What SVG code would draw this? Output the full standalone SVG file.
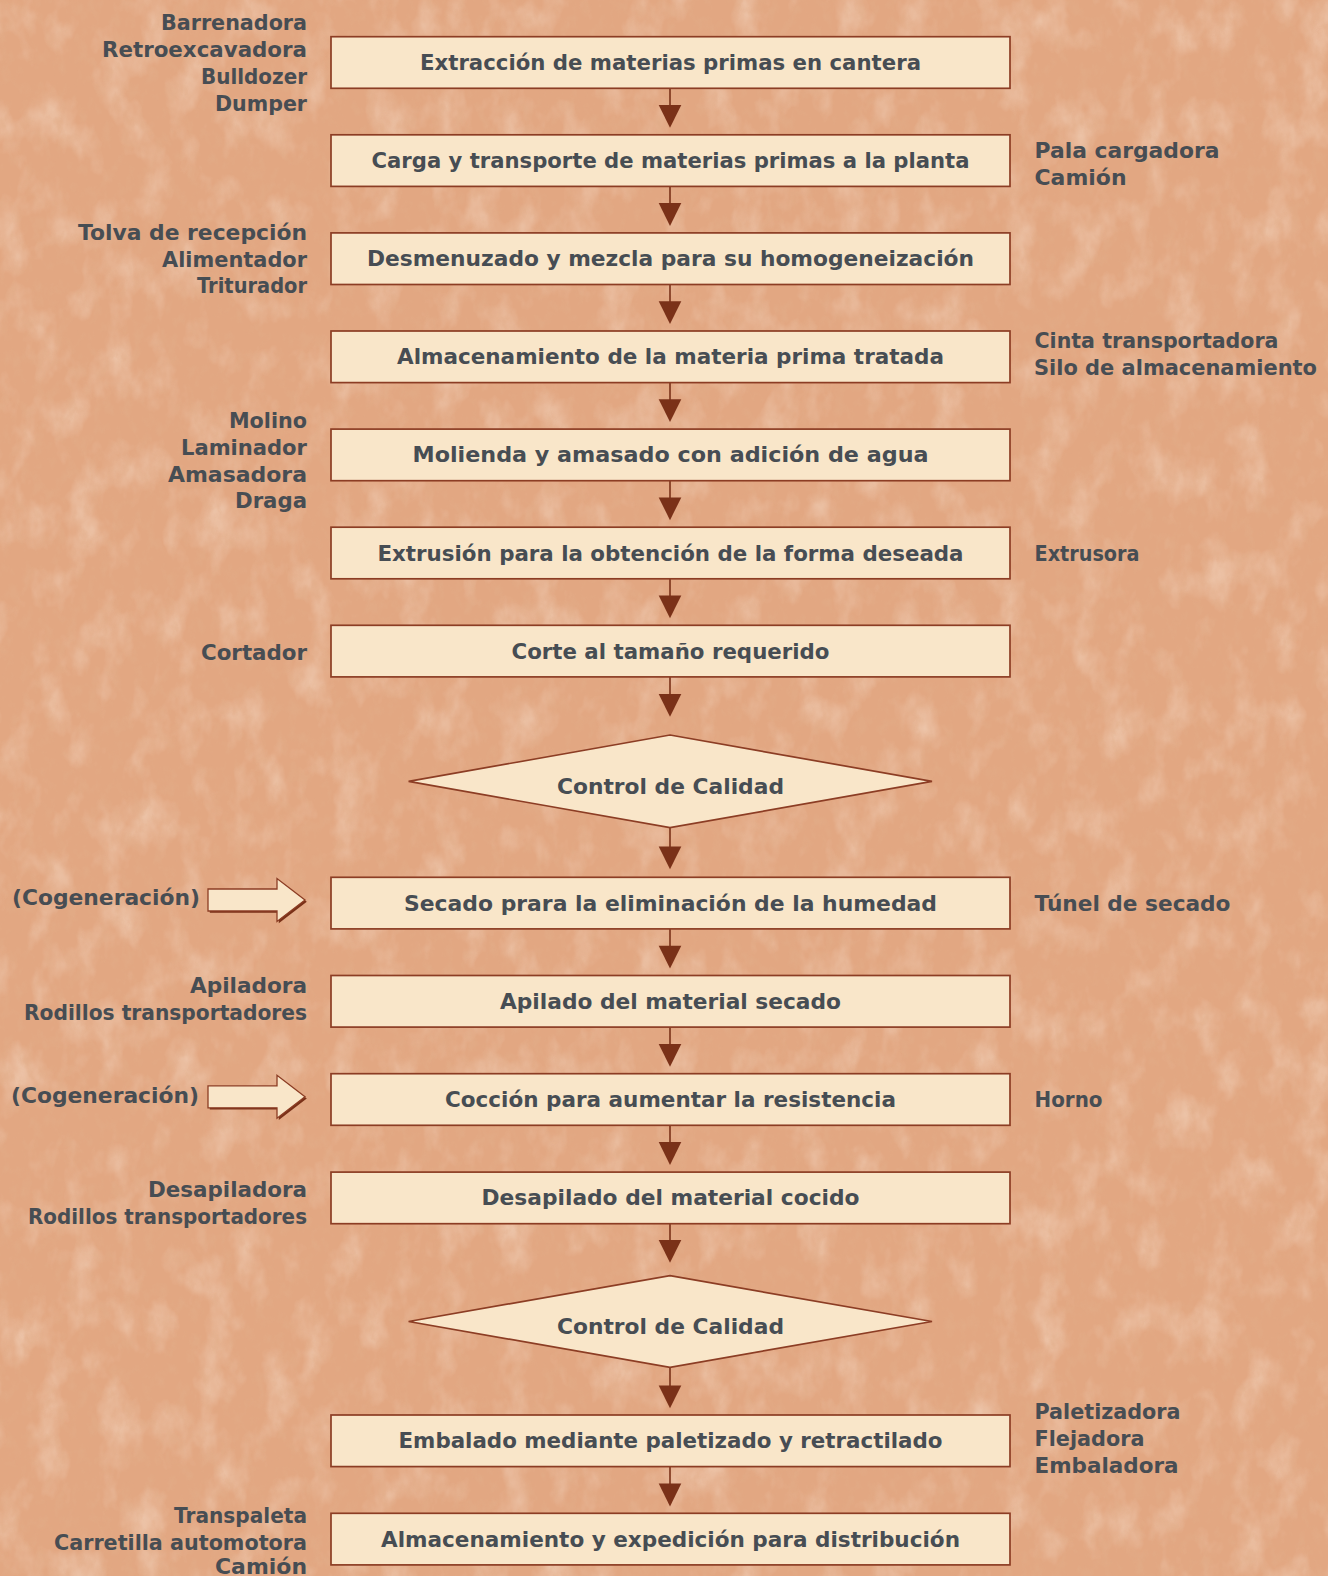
<svg xmlns="http://www.w3.org/2000/svg" width="1328" height="1576" viewBox="0 0 1328 1576">
<style>
.bg{fill:#e2a782}
.box{fill:#f9e6c9;stroke:#8c3d24;stroke-width:1.7}
.t{font-family:"DejaVu Sans","Liberation Sans",sans-serif;font-weight:bold;font-size:22px;fill:#474d53}
.c{text-anchor:middle}
.l{text-anchor:end}
.cl{stroke:#7a3118;stroke-width:1.6;fill:none}
.ah{fill:#7a3118}
.ba{fill:#f9e6c9;stroke:#8c3d24;stroke-width:1.3}
.bs{fill:#7a3118}
</style>
<defs>
<filter id="dark" x="0" y="0" width="100%" height="100%">
<feTurbulence type="fractalNoise" baseFrequency="0.09 0.06" numOctaves="4" seed="7" result="n"/>
<feColorMatrix in="n" type="matrix" values="0 0 0 0 0.76  0 0 0 0 0.42  0 0 0 0 0.25  3.0 0 0 0 -1.45"/>
</filter>
<filter id="light" x="0" y="0" width="100%" height="100%">
<feTurbulence type="fractalNoise" baseFrequency="0.03 0.02" numOctaves="4" seed="2" result="n"/>
<feColorMatrix in="n" type="matrix" values="0 0 0 0 0.95  0 0 0 0 0.80  0 0 0 0 0.68  -2.2 0 0 0 1.15"/>
</filter>
</defs>
<rect class="bg" x="0" y="0" width="1328" height="1576"/>
<rect x="0" y="0" width="1328" height="1576" filter="url(#light)" opacity="0.45"/>
<rect x="0" y="0" width="1328" height="1576" filter="url(#dark)" opacity="0.55"/>

<g id="connectors">
<line class="cl" x1="670" y1="88.3" x2="670" y2="106"/><polygon class="ah" points="658.7,105 681.3,105 670,127.8"/>
<line class="cl" x1="670" y1="186.4" x2="670" y2="204"/><polygon class="ah" points="658.7,203.1 681.3,203.1 670,225.9"/>
<line class="cl" x1="670" y1="284.5" x2="670" y2="302"/><polygon class="ah" points="658.7,301.2 681.3,301.2 670,324"/>
<line class="cl" x1="670" y1="382.6" x2="670" y2="400"/><polygon class="ah" points="658.7,399.3 681.3,399.3 670,422.1"/>
<line class="cl" x1="670" y1="480.7" x2="670" y2="498"/><polygon class="ah" points="658.7,497.4 681.3,497.4 670,520.2"/>
<line class="cl" x1="670" y1="578.8" x2="670" y2="596"/><polygon class="ah" points="658.7,595.5 681.3,595.5 670,618.3"/>
<line class="cl" x1="670" y1="676.9" x2="670" y2="695"/><polygon class="ah" points="658.7,694 681.3,694 670,716.8"/>
<line class="cl" x1="670" y1="827.7" x2="670" y2="847"/><polygon class="ah" points="658.7,846.5 681.3,846.5 670,869.3"/>
<line class="cl" x1="670" y1="928.9" x2="670" y2="946"/><polygon class="ah" points="658.7,945.7 681.3,945.7 670,968.5"/>
<line class="cl" x1="670" y1="1027.1" x2="670" y2="1044"/><polygon class="ah" points="658.7,1043.9 681.3,1043.9 670,1066.7"/>
<line class="cl" x1="670" y1="1125.3" x2="670" y2="1143"/><polygon class="ah" points="658.7,1142.1 681.3,1142.1 670,1164.9"/>
<line class="cl" x1="670" y1="1223.7" x2="670" y2="1241"/><polygon class="ah" points="658.7,1240 681.3,1240 670,1262.8"/>
<line class="cl" x1="670" y1="1367.3" x2="670" y2="1386"/><polygon class="ah" points="658.7,1385.4 681.3,1385.4 670,1408.2"/>
<line class="cl" x1="670" y1="1466.6" x2="670" y2="1484"/><polygon class="ah" points="658.7,1483.6 681.3,1483.6 670,1506.4"/>
</g>

<g id="cogen1">
<polygon class="bs" transform="translate(1.8,1.8)" points="208,889 277,889 277,878.5 305,900 277,921.5 277,911 208,911"/>
<polygon class="ba" points="208,889 277,889 277,878.5 305,900 277,921.5 277,911 208,911"/>
<text class="t" x="12" y="905" textLength="188" lengthAdjust="spacingAndGlyphs">(Cogeneración)</text>
</g>
<g id="cogen2">
<polygon class="bs" transform="translate(1.8,198.6)" points="208,889 277,889 277,878.5 305,900 277,921.5 277,911 208,911"/>
<polygon class="ba" transform="translate(0,196.8)" points="208,889 277,889 277,878.5 305,900 277,921.5 277,911 208,911"/>
<text class="t" x="11" y="1103.3" textLength="188" lengthAdjust="spacingAndGlyphs">(Cogeneración)</text>
</g>

<g id="n1"><rect class="box" x="331" y="36.7" width="679" height="51.6"/><text class="t c" x="670.5" y="70" textLength="501" lengthAdjust="spacingAndGlyphs">Extracción de materias primas en cantera</text></g>
<g id="n2"><rect class="box" x="331" y="134.8" width="679" height="51.6"/><text class="t c" x="670.5" y="168.1" textLength="598" lengthAdjust="spacingAndGlyphs">Carga y transporte de materias primas a la planta</text></g>
<g id="n3"><rect class="box" x="331" y="232.9" width="679" height="51.6"/><text class="t c" x="670.5" y="266.2" textLength="607" lengthAdjust="spacingAndGlyphs">Desmenuzado y mezcla para su homogeneización</text></g>
<g id="n4"><rect class="box" x="331" y="331" width="679" height="51.6"/><text class="t c" x="670.5" y="364.3" textLength="547" lengthAdjust="spacingAndGlyphs">Almacenamiento de la materia prima tratada</text></g>
<g id="n5"><rect class="box" x="331" y="429.1" width="679" height="51.6"/><text class="t c" x="670.5" y="462.4" textLength="516" lengthAdjust="spacingAndGlyphs">Molienda y amasado con adición de agua</text></g>
<g id="n6"><rect class="box" x="331" y="527.2" width="679" height="51.6"/><text class="t c" x="670.5" y="560.5" textLength="586" lengthAdjust="spacingAndGlyphs">Extrusión para la obtención de la forma deseada</text></g>
<g id="n7"><rect class="box" x="331" y="625.3" width="679" height="51.6"/><text class="t c" x="670.5" y="658.6" textLength="318" lengthAdjust="spacingAndGlyphs">Corte al tamaño requerido</text></g>
<g id="d1"><polygon class="box" points="670,735 932,781.4 670,827.7 408.6,781.4"/><text class="t c" x="670.5" y="794" textLength="227" lengthAdjust="spacingAndGlyphs">Control de Calidad</text></g>
<g id="n8"><rect class="box" x="331" y="877.3" width="679" height="51.6"/><text class="t c" x="670.5" y="910.6" textLength="533" lengthAdjust="spacingAndGlyphs">Secado prara la eliminación de la humedad</text></g>
<g id="n9"><rect class="box" x="331" y="975.5" width="679" height="51.6"/><text class="t c" x="670.5" y="1008.8" textLength="341" lengthAdjust="spacingAndGlyphs">Apilado del material secado</text></g>
<g id="n10"><rect class="box" x="331" y="1073.7" width="679" height="51.6"/><text class="t c" x="670.5" y="1107" textLength="451" lengthAdjust="spacingAndGlyphs">Cocción para aumentar la resistencia</text></g>
<g id="n11"><rect class="box" x="331" y="1172.1" width="679" height="51.6"/><text class="t c" x="670.5" y="1205.4" textLength="378" lengthAdjust="spacingAndGlyphs">Desapilado del material cocido</text></g>
<g id="d2"><polygon class="box" points="670,1275.7 932,1321.5 670,1367.3 408.6,1321.5"/><text class="t c" x="670.5" y="1334" textLength="227" lengthAdjust="spacingAndGlyphs">Control de Calidad</text></g>
<g id="n12"><rect class="box" x="331" y="1415" width="679" height="51.6"/><text class="t c" x="670.5" y="1448.3" textLength="544" lengthAdjust="spacingAndGlyphs">Embalado mediante paletizado y retractilado</text></g>
<g id="n13"><rect class="box" x="331" y="1513.3" width="679" height="51.6"/><text class="t c" x="670.5" y="1546.6" textLength="579" lengthAdjust="spacingAndGlyphs">Almacenamiento y expedición para distribución</text></g>

<g id="labels-left">
<text class="t l" x="307" y="30" textLength="146" lengthAdjust="spacingAndGlyphs">Barrenadora</text>
<text class="t l" x="307" y="57" textLength="205" lengthAdjust="spacingAndGlyphs">Retroexcavadora</text>
<text class="t l" x="307" y="84" textLength="106" lengthAdjust="spacingAndGlyphs">Bulldozer</text>
<text class="t l" x="307" y="111" textLength="92" lengthAdjust="spacingAndGlyphs">Dumper</text>
<text class="t l" x="307" y="239.7" textLength="229" lengthAdjust="spacingAndGlyphs">Tolva de recepción</text>
<text class="t l" x="307" y="266.9" textLength="145" lengthAdjust="spacingAndGlyphs">Alimentador</text>
<text class="t l" x="307" y="293" textLength="110" lengthAdjust="spacingAndGlyphs">Triturador</text>
<text class="t l" x="307" y="427.7" textLength="78" lengthAdjust="spacingAndGlyphs">Molino</text>
<text class="t l" x="307" y="454.9" textLength="126" lengthAdjust="spacingAndGlyphs">Laminador</text>
<text class="t l" x="307" y="482" textLength="139" lengthAdjust="spacingAndGlyphs">Amasadora</text>
<text class="t l" x="307" y="508.1" textLength="72" lengthAdjust="spacingAndGlyphs">Draga</text>
<text class="t l" x="307" y="659.5" textLength="106" lengthAdjust="spacingAndGlyphs">Cortador</text>
<text class="t l" x="307" y="992.7" textLength="117" lengthAdjust="spacingAndGlyphs">Apiladora</text>
<text class="t l" x="307" y="1019.8" textLength="283" lengthAdjust="spacingAndGlyphs">Rodillos transportadores</text>
<text class="t l" x="307" y="1196.8" textLength="159" lengthAdjust="spacingAndGlyphs">Desapiladora</text>
<text class="t l" x="307" y="1223.9" textLength="279" lengthAdjust="spacingAndGlyphs">Rodillos transportadores</text>
<text class="t l" x="307" y="1522.7" textLength="133" lengthAdjust="spacingAndGlyphs">Transpaleta</text>
<text class="t l" x="307" y="1549.7" textLength="253" lengthAdjust="spacingAndGlyphs">Carretilla automotora</text>
<text class="t l" x="307" y="1574" textLength="92" lengthAdjust="spacingAndGlyphs">Camión</text>
</g>
<g id="labels-right">
<text class="t" x="1034.5" y="158.3" textLength="185" lengthAdjust="spacingAndGlyphs">Pala cargadora</text>
<text class="t" x="1034.5" y="185.4" textLength="92" lengthAdjust="spacingAndGlyphs">Camión</text>
<text class="t" x="1034.5" y="348.3" textLength="244" lengthAdjust="spacingAndGlyphs">Cinta transportadora</text>
<text class="t" x="1034" y="375" font-size="21" style="font-size:21px" textLength="283" lengthAdjust="spacingAndGlyphs">Silo de almacenamiento</text>
<text class="t" x="1034.5" y="560.5" textLength="105" lengthAdjust="spacingAndGlyphs">Extrusora</text>
<text class="t" x="1034.5" y="910.6" textLength="196" lengthAdjust="spacingAndGlyphs">Túnel de secado</text>
<text class="t" x="1034.5" y="1107" textLength="68" lengthAdjust="spacingAndGlyphs">Horno</text>
<text class="t" x="1034.5" y="1419" textLength="146" lengthAdjust="spacingAndGlyphs">Paletizadora</text>
<text class="t" x="1034.5" y="1446.1" textLength="110" lengthAdjust="spacingAndGlyphs">Flejadora</text>
<text class="t" x="1034.5" y="1473.2" textLength="144" lengthAdjust="spacingAndGlyphs">Embaladora</text>
</g>
</svg>
